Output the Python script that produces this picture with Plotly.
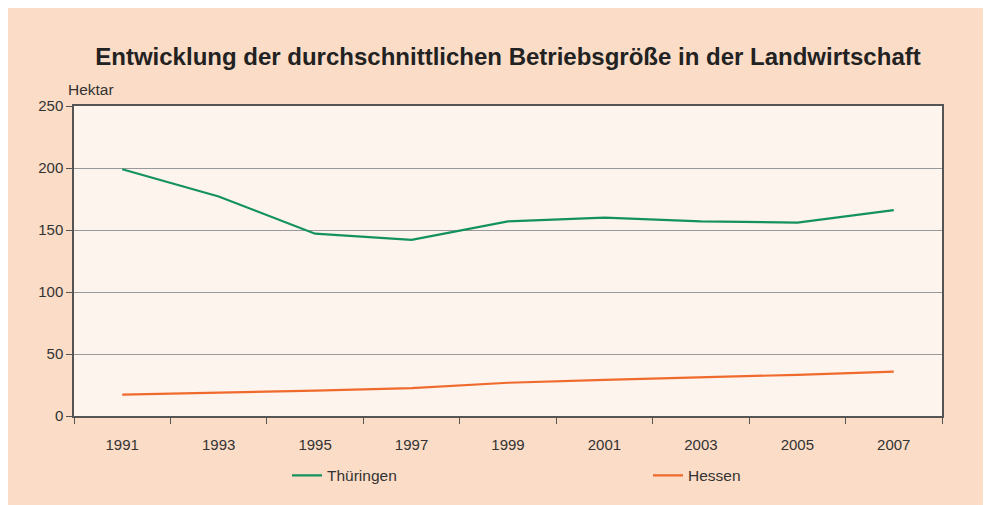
import plotly.graph_objects as go

years = ["1991", "1993", "1995", "1997", "1999", "2001", "2003", "2005", "2007"]
thueringen = [199, 177, 147, 142, 157, 160, 157, 156, 166]
hessen = [17.3, 18.6, 20.4, 22.5, 26.8, 29.2, 31, 33.2, 35.8]

PEACH = "#fbdcc6"
PLOTBG = "#fdf4ed"
GREEN = "#14925e"
ORANGE = "#ef6a2c"
FONT = "Liberation Sans, Arial, sans-serif"

# page has 8px body margin; figure occupies screen 8..991 x 8..505
OFF = 8
W, H = 991 - OFF, 505 - OFF
L = 74 - OFF
T = 106 - OFF
R = W - (942 - OFF)
B = H - (422 - OFF)
pw, ph = W - L - R, H - T - B


def px_x(p):  # screen pixel -> paper x
    return (p - OFF - L) / pw


def px_y(p):  # screen pixel -> paper y
    return (H - B - (p - OFF)) / ph


fig = go.Figure()
fig.add_trace(go.Scatter(x=years, y=thueringen, mode="lines", name="Thüringen",
                         line=dict(color=GREEN, width=2.2), legend="legend"))
fig.add_trace(go.Scatter(x=years, y=hessen, mode="lines", name="Hessen",
                         line=dict(color=ORANGE, width=2.2), legend="legend2"))

fig.update_layout(
    width=W, height=H,
    margin=dict(l=L, r=R, t=T, b=B),
    paper_bgcolor=PEACH,
    plot_bgcolor=PLOTBG,
    font=dict(family=FONT, size=15, color="#333333"),
    title=dict(text="<b>Entwicklung der durchschnittlichen Betriebsgröße in der Landwirtschaft</b>",
               x=0.5, xanchor="center", xref="paper", y=1 - (57 - OFF) / H, yanchor="middle",
               font=dict(size=24, color="#222222", family=FONT)),
    showlegend=True,
    legend=dict(orientation="h", x=px_x(287), xanchor="left", y=px_y(483), yanchor="middle",
                bgcolor="rgba(0,0,0,0)", font=dict(size=15.5, color="#333333")),
    legend2=dict(orientation="h", x=px_x(648), xanchor="left", y=px_y(483), yanchor="middle",
                 bgcolor="rgba(0,0,0,0)", font=dict(size=15.5, color="#333333")),
    xaxis=dict(type="category", tickson="boundaries", ticks="outside", ticklen=6,
               tickcolor="#555555", showline=True, linecolor="#555555", linewidth=1.5,
               mirror=True, showgrid=False, ticklabelstandoff=14, range=[-0.5, 8.5],
               fixedrange=True),
    yaxis=dict(range=[0, 250], tickvals=[0, 50, 100, 150, 200, 250], ticks="outside",
               ticklen=6, tickcolor="#555555", showline=True, linecolor="#555555",
               linewidth=1.5, mirror=True, showgrid=True, gridcolor="#999999",
               gridwidth=1, zeroline=False, fixedrange=True),
    annotations=[dict(text="Hektar", xref="paper", yref="paper", x=px_x(66), y=px_y(89),
                      xanchor="left", yanchor="middle", showarrow=False,
                      font=dict(size=15.5, color="#333333", family=FONT))],
)

fig.write_html("out.html")
